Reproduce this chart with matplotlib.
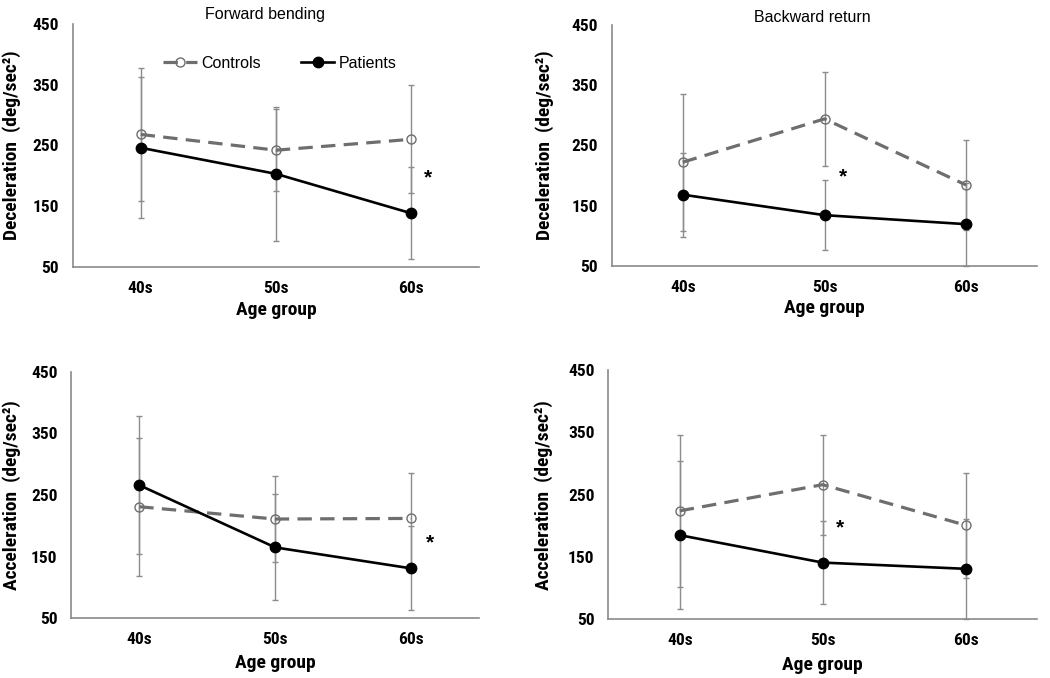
import matplotlib
matplotlib.use("Agg")
import matplotlib.pyplot as plt

plt.rcParams['font.family'] = ['Liberation Sans', 'DejaVu Sans']
BOLD_FAM = ['Roboto Condensed', 'Liberation Sans', 'DejaVu Sans']
REG_FAM = ['Liberation Sans', 'DejaVu Sans']

age_groups = ["40s", "50s", "60s"]
yticks = [50, 150, 250, 350, 450]

panel_titles = ["Forward bending", "Backward return", "", ""]
panel_ylabels = ["Deceleration  (deg/sec\u00b2)", "Deceleration  (deg/sec\u00b2)",
                 "Acceleration  (deg/sec\u00b2)", "Acceleration  (deg/sec\u00b2)"]

# Forward bending deceleration
fb_dec_controls = [268, 242, 260]
fb_dec_controls_sd = [110, 68, 89]
fb_dec_patients = [246, 203, 138]
fb_dec_patients_sd = [116, 110, 76]
# Backward return deceleration
br_dec_controls = [222, 294, 184]
br_dec_controls_sd = [114, 78, 75]
br_dec_patients = [168, 134, 119]
br_dec_patients_sd = [70, 58, 69]
# Forward bending acceleration
fb_acc_controls = [231, 211, 212]
fb_acc_controls_sd = [112, 70, 74]
fb_acc_patients = [266, 165, 131]
fb_acc_patients_sd = [112, 86, 68]
# Backward return acceleration
br_acc_controls = [224, 266, 201]
br_acc_controls_sd = [122, 80, 84]
br_acc_patients = [185, 141, 131]
br_acc_patients_sd = [119, 67, 80]

# significance star positions (x in category units, y in data units)
star_x = [2.62, 1.63, 2.64, 1.62]
star_y = [196, 197, 172, 197]

panels = [
    (fb_dec_controls, fb_dec_controls_sd, fb_dec_patients, fb_dec_patients_sd),
    (br_dec_controls, br_dec_controls_sd, br_dec_patients, br_dec_patients_sd),
    (fb_acc_controls, fb_acc_controls_sd, fb_acc_patients, fb_acc_patients_sd),
    (br_acc_controls, br_acc_controls_sd, br_acc_patients, br_acc_patients_sd),
]

W, H = 1050, 678
fig = plt.figure(figsize=(W / 100, H / 100), dpi=100)

# axes boxes in pixels: left, right, top, bottom
boxes = [(73, 479, 24, 266.7), (612, 1037, 25, 265.7),
         (71.3, 479, 371.7, 618.3), (608.3, 1037, 370, 619.3)]
ylabel_x = [-0.152, -0.158, -0.147, -0.152]
xlabel_y = [-0.178, -0.175, -0.182, -0.184]

spine_col = "#8a8a8a"
err_col = "#8c8c8c"
ctrl_col = "#6e6e6e"

xpos = [0.5, 1.5, 2.5]
axes = []
for i, (l, r, t, b) in enumerate(boxes):
    ax = fig.add_axes([l / W, (H - b) / H, (r - l) / W, (b - t) / H])
    axes.append(ax)
    c, csd, p, psd = panels[i]
    ax.errorbar(xpos, c, yerr=csd, fmt='none', ecolor=err_col, elinewidth=1,
                capsize=2.3, capthick=1, zorder=2, clip_on=False)
    ax.errorbar(xpos, p, yerr=psd, fmt='none', ecolor=err_col, elinewidth=1,
                capsize=2.3, capthick=1, zorder=2, clip_on=False)
    ax.plot(xpos, c, color=ctrl_col, lw=2.3, dashes=(4.5, 2.6),
            marker='o', markersize=6.5, markerfacecolor='none',
            markeredgecolor=ctrl_col, markeredgewidth=1.0, zorder=3,
            label="Controls")
    ax.plot(xpos, p, color='black', lw=1.9, marker='o', markersize=7.5,
            markerfacecolor='black', markeredgecolor='black', zorder=4,
            label="Patients")
    ax.text(star_x[i], star_y[i], "*", fontsize=15, fontweight='bold',
            family=REG_FAM, ha='center', va='center')

    ax.set_xlim(0, 3)
    ax.set_ylim(50, 450)
    ax.set_xticks(xpos)
    ax.set_xticklabels(age_groups)
    ax.set_yticks(yticks)
    ax.tick_params(axis='both', length=0, labelsize=12.5)
    ax.tick_params(axis='y', pad=10)
    ax.tick_params(axis='x', pad=10)
    for lab in ax.get_xticklabels() + ax.get_yticklabels():
        lab.set_fontweight('bold')
        lab.set_family(BOLD_FAM)
    for s in ['top', 'right']:
        ax.spines[s].set_visible(False)
    for s in ['left', 'bottom']:
        ax.spines[s].set_color(spine_col)
        ax.spines[s].set_linewidth(1.2)
    ax.set_ylabel(panel_ylabels[i], fontsize=14, fontweight='bold', va='center',
                  family=BOLD_FAM)
    ax.yaxis.set_label_coords(ylabel_x[i], 0.5)
    ax.set_xlabel("Age group", fontsize=14, fontweight='bold', va='center',
                  family=BOLD_FAM)
    ax.xaxis.set_label_coords(0.5, xlabel_y[i])
    ax.patch.set_alpha(0)

fig.text(265 / W, 1 - 14 / H, panel_titles[0], fontsize=11.5, ha='center', va='center',
         family=REG_FAM)
fig.text(812 / W, 1 - 18 / H, panel_titles[1], fontsize=11.5, ha='center', va='center',
         family=REG_FAM)

leg = axes[0].legend(loc='center left', bbox_to_anchor=((163 - 73) / 406, (266.7 - 63) / 242.7),
                     ncol=2, frameon=False, prop={'family': REG_FAM, 'size': 11.5},
                     handlelength=2.1, handletextpad=0.3, columnspacing=2.5,
                     borderpad=0, borderaxespad=0)

fig.savefig("out.png", dpi=100)
